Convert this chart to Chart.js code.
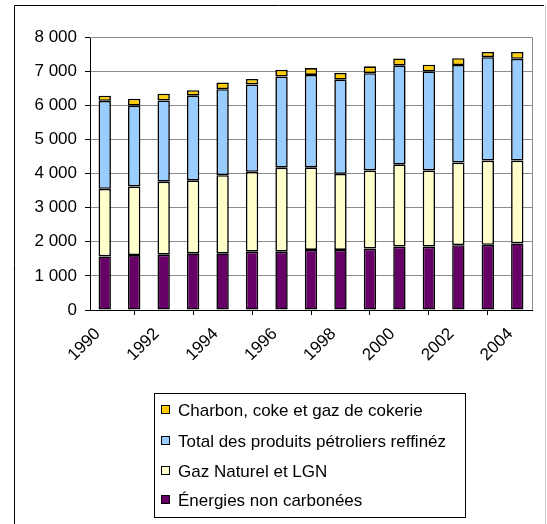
<!DOCTYPE html>
<html>
<head>
<meta charset="utf-8">
<script src="https://cdn.jsdelivr.net/npm/chart.js@4"></script>
<style>
  html, body { margin: 0; padding: 0; background: #fff; }
  #wrap { width: 547px; height: 524px; position: relative; }
</style>
</head>
<body>
<div id="wrap"><canvas id="chart"></canvas></div>
<script>
const years = ['1990', '1991', '1992', '1993', '1994', '1995', '1996', '1997',
  '1998', '1999', '2000', '2001', '2002', '2003', '2004'];
const nonCarbon = [1570, 1610, 1620, 1660, 1660, 1710, 1710, 1760, 1760, 1800, 1860, 1860, 1900, 1910, 1950];
const gasLgn = [1980, 2010, 2140, 2140, 2290, 2340, 2460, 2420, 2230, 2290, 2410, 2230, 2420, 2470, 2430];
const oilProducts = [2580, 2370, 2380, 2480, 2520, 2560, 2670, 2710, 2760, 2850, 2900, 2900, 2860, 3030, 2980];
const coal = [150, 200, 200, 160, 200, 160, 200, 200, 200, 200, 200, 200, 200, 150, 200];
const yTicks = [0, 1000, 2000, 3000, 4000, 5000, 6000, 7000, 8000];

const FONT = "'Liberation Sans', Arial, sans-serif";

function spaced(v) {
  return String(v).replace(/\B(?=(\d{3})+(?!\d))/g, ' ');
}

// frame around the whole picture + grey border on top/right of plot
const framePlugin = {
  id: 'frame',
  beforeDraw(chart) {
    const c = chart.ctx;
    c.save();
    c.fillStyle = '#fff';
    c.fillRect(0, 0, chart.width, chart.height);
    c.restore();
  },
  afterDraw(chart) {
    const c = chart.ctx;
    const a = chart.chartArea;
    c.save();
    c.lineWidth = 1;
    c.strokeStyle = '#8c8c8c';
    c.beginPath();
    c.moveTo(a.left, Math.round(a.top) + 0.5);
    c.lineTo(Math.round(a.right) + 0.5, Math.round(a.top) + 0.5);
    c.lineTo(Math.round(a.right) + 0.5, a.bottom);
    c.stroke();

    c.strokeStyle = '#000';
    c.beginPath();
    c.moveTo(14.5, chart.height);
    c.lineTo(14.5, 5.5);
    c.lineTo(544, 5.5);
    c.stroke();
    c.strokeStyle = '#c8c8c8';
    c.beginPath();
    c.moveTo(545.5, 5);
    c.lineTo(545.5, chart.height);
    c.stroke();
    c.restore();
  }
};

// boxed legend below the plot, one entry per line, top series first
const boxLegend = {
  id: 'boxLegend',
  afterDraw(chart) {
    const c = chart.ctx;
    const sets = chart.data.datasets.slice().reverse();
    c.save();
    c.strokeStyle = '#000';
    c.lineWidth = 1;
    c.strokeRect(154.5, 393.5, 311, 124);
    c.font = '17px ' + FONT;
    c.textBaseline = 'middle';
    c.fillStyle = '#000';
    const rows = [410, 441, 471, 500];
    sets.forEach((ds, i) => {
      const y = rows[i];
      c.fillStyle = ds.backgroundColor;
      c.fillRect(161.5, y - 4.5, 8, 8);
      c.strokeRect(161.5, y - 4.5, 8, 8);
      c.fillStyle = '#000';
      c.fillText(ds.label, 178, y + 1);
    });
    c.restore();
  }
};

const barStyle = {
  borderColor: '#000',
  borderWidth: 1.6,
  borderSkipped: false,
  barPercentage: 0.42,
  categoryPercentage: 1.0
};

new Chart(document.getElementById('chart'), {
  type: 'bar',
  data: {
    labels: years,
    datasets: [
      Object.assign({ label: 'Énergies non carbonées', data: nonCarbon, backgroundColor: '#660066' }, barStyle),
      Object.assign({ label: 'Gaz Naturel et LGN', data: gasLgn, backgroundColor: '#FFFFCC' }, barStyle),
      Object.assign({ label: 'Total des produits pétroliers reffinéz', data: oilProducts, backgroundColor: '#99CCFF' }, barStyle),
      Object.assign({ label: 'Charbon, coke et gaz de cokerie', data: coal, backgroundColor: '#FFCC00' }, barStyle)
    ]
  },
  options: {
    responsive: true,
    maintainAspectRatio: false,
    animation: false,
    layout: { padding: { left: 0, top: 37, right: 15, bottom: 0 } },
    plugins: {
      legend: { display: false },
      tooltip: { enabled: false }
    },
    scales: {
      x: {
        stacked: true,
        offset: true,
        afterFit(scale) { scale.height = 214; },
        border: { color: '#000', width: 1 },
        grid: {
          offset: true,
          drawOnChartArea: false,
          drawTicks: true,
          tickLength: 5,
          tickColor: '#000'
        },
        ticks: {
          autoSkip: false,
          maxRotation: 45,
          minRotation: 45,
          padding: 9,
          labelOffset: -7,
          color: '#000',
          font: { family: FONT, size: 17 },
          callback(value, index) {
            return index % 2 === 0 ? years[index] : null;
          }
        }
      },
      y: {
        stacked: true,
        min: 0,
        max: 8000,
        afterFit(scale) { scale.width = 90; },
        afterBuildTicks(scale) {
          scale.ticks = yTicks.map(v => ({ value: v }));
        },
        border: { color: '#000', width: 1 },
        grid: {
          color: '#8c8c8c',
          tickColor: '#000',
          tickLength: 5
        },
        ticks: {
          padding: 8,
          color: '#000',
          font: { family: FONT, size: 17 },
          callback(value) { return spaced(value); }
        }
      }
    }
  },
  plugins: [framePlugin, boxLegend]
});
</script>
</body>
</html>
